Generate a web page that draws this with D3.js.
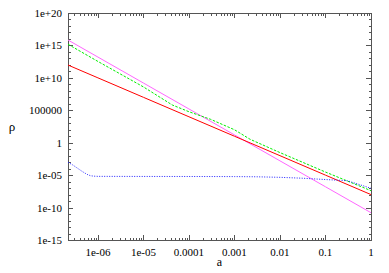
<!DOCTYPE html>
<html><head><meta charset="utf-8">
<script src="https://cdn.jsdelivr.net/npm/d3@7"></script>
<style>body{margin:0;background:#fff}svg{display:block}text{font-family:"Liberation Serif","Times New Roman",serif;fill:#000}</style>
</head><body>
<script>
// ---- data ----
const xTickVals = [1e-6, 1e-5, 1e-4, 1e-3, 1e-2, 1e-1, 1];
const xTickLabels = ["1e-06", "1e-05", "0.0001", "0.001", "0.01", "0.1", "1"];
const yTickVals = [1e-15, 1e-10, 1e-5, 1, 1e5, 1e10, 1e15, 1e20];
const yTickLabels = ["1e-15", "1e-10", "1e-05", "1", "100000", "1e+10", "1e+15", "1e+20"];

const aRed = [2.2e-7, 1e-6, 1e-5, 1e-4, 1e-3, 1e-2, 1e-1, 1];
const rhoRed = [9.4e11, 1e10, 1e7, 1e4, 10, 1e-2, 1e-5, 1e-8];

const aMagenta = [2.2e-7, 1e-6, 1e-5, 1e-4, 1e-3, 1e-2, 1e-1, 1];
const rhoMagenta = [6.8e15, 1.6e13, 1.6e9, 1.6e5, 16, 1.6e-3, 1.6e-7, 1.6e-11];

const aGreen = [2.2e-7, 1e-6, 1e-5, 4.3e-5, 1e-4, 3e-4, 1e-3, 2.2e-3, 1e-2, 1e-1, 1];
const rhoGreen = [1.5e15, 3.4e12, 4e8, 6.6e5, 6e4, 4e3, 1e2, 3.4, 3e-2, 3e-5, 4e-8];

const aBlue = [2.2e-7, 2.8e-7, 3.6e-7, 4.6e-7, 5.8e-7, 6.9e-7, 8.1e-7, 1e-6, 1e-5, 1e-4, 1e-3, 3e-3, 1e-2, 3e-2, 1e-1, 0.3, 1];
const rhoBlue = [9.5e-4, 3.7e-4, 1.1e-4, 3.4e-5, 1.3e-5, 8e-6, 7e-6, 6.5e-6, 6.3e-6, 6.2e-6, 6e-6, 5.6e-6, 4.6e-6, 3.4e-6, 2.1e-6, 1.4e-6, 9.4e-8];

// ---- layout ----
const W = 389, H = 273;
const m = {l: 68, r: 18, t: 13, b: 33};
const svg = d3.select("body").append("svg").attr("width", W).attr("height", H);

const x = d3.scaleLog().domain([2.2e-7, 1]).range([m.l, W - m.r]);
const y = d3.scaleLog().domain([1e-15, 1e20]).range([H - m.b, m.t]);

const frame = "#555";

svg.append("clipPath").attr("id", "clip").append("rect")
  .attr("x", m.l).attr("y", m.t).attr("width", W - m.l - m.r).attr("height", H - m.t - m.b);

// minor x ticks (2..9 per decade)
const xMinor = [];
for (let e = -7; e <= 0; e++) for (let k = 2; k <= 9; k++) {
  const v = k * Math.pow(10, e);
  if (v >= 2.2e-7 && v < 1) xMinor.push(v);
}
// minor y ticks (each decade)
const yMinor = [];
for (let e = -15; e <= 20; e++) if (e % 5 !== 0) yMinor.push(Math.pow(10, e));

const tickG = svg.append("g").attr("stroke", frame).attr("stroke-width", 1).attr("shape-rendering", "crispEdges");
const x0 = m.l, x1 = W - m.r, y0 = H - m.b, y1 = m.t;
function xt(v, len) {
  const px = Math.round(x(v)) + 0.5;
  tickG.append("line").attr("x1", px).attr("x2", px).attr("y1", y0).attr("y2", y0 - len);
  tickG.append("line").attr("x1", px).attr("x2", px).attr("y1", y1).attr("y2", y1 + len);
}
function yt(v, len) {
  const py = Math.round(y(v)) + 0.5;
  tickG.append("line").attr("x1", x0).attr("x2", x0 + len).attr("y1", py).attr("y2", py);
  tickG.append("line").attr("x1", x1).attr("x2", x1 - len).attr("y1", py).attr("y2", py);
}
xMinor.forEach(v => xt(v, 2.5));
xTickVals.forEach(v => xt(v, 5));
yMinor.forEach(v => yt(v, 2.5));
yTickVals.forEach(v => yt(v, 5));

svg.append("rect").attr("x", x0 + 0.5).attr("y", y1 + 0.5).attr("width", x1 - x0).attr("height", y0 - y1)
  .attr("fill", "none").attr("stroke", frame).attr("stroke-width", 1).attr("shape-rendering", "crispEdges");

svg.append("g").selectAll("text").data(xTickVals).join("text")
  .attr("x", d => x(d)).attr("y", y0 + 16).attr("text-anchor", "middle").attr("font-size", 11)
  .text((d, i) => xTickLabels[i]);
svg.append("g").selectAll("text").data(yTickVals).join("text")
  .attr("x", m.l - 6).attr("y", d => y(d) + 4).attr("text-anchor", "end").attr("font-size", 11)
  .text((d, i) => yTickLabels[i]);

svg.append("text").attr("x", (x0 + x1) / 2).attr("y", 266).attr("text-anchor", "middle").attr("font-size", 12).text("a");
svg.append("text").attr("x", 12).attr("y", 131).attr("text-anchor", "middle").attr("font-size", 13).text("ρ");

const line = d3.line().x(d => x(d[0])).y(d => y(d[1]));
const plot = svg.append("g").attr("clip-path", "url(#clip)").attr("fill", "none").attr("stroke-width", 1);
function draw(as, rs, color, dash) {
  plot.append("path").datum(as.map((a, i) => [a, rs[i]])).attr("d", line)
    .attr("stroke", color).attr("stroke-dasharray", dash || null);
}
draw(aMagenta, rhoMagenta, "#ff66ff");
draw(aRed, rhoRed, "#ff0000");
draw(aGreen, rhoGreen, "#00ee00", "2.5,1.5");
draw(aBlue, rhoBlue, "#2020ff", "1,1.5");
</script>
</body></html>
